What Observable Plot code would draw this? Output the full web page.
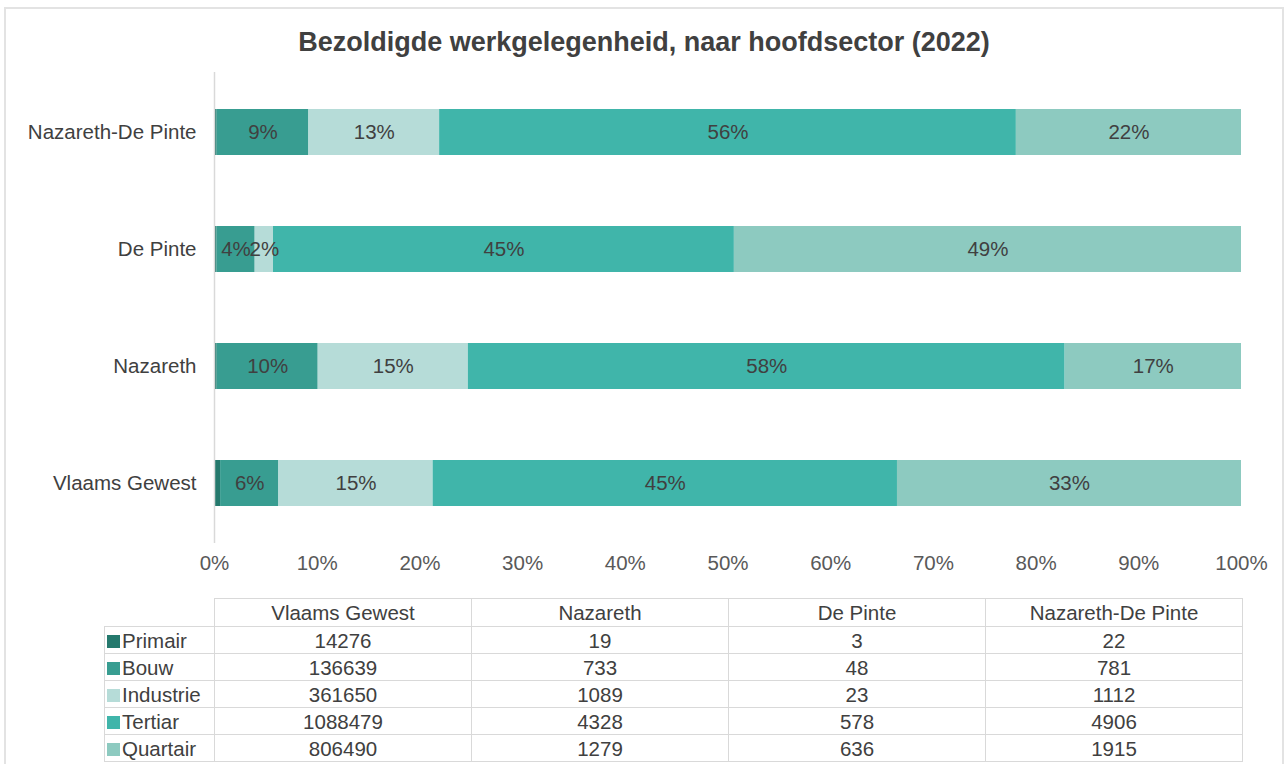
<!DOCTYPE html>
<html>
<head>
<meta charset="utf-8">
<script src="https://cdn.jsdelivr.net/npm/d3@7"></script>
<script src="https://cdn.jsdelivr.net/npm/@observablehq/plot@0.6"></script>
<style>
  html, body { margin: 0; padding: 0; background: #fff; }
  body { width: 1288px; height: 764px; position: relative; overflow: hidden; font-family: "Liberation Sans", Arial, sans-serif; }
  #frame { position: absolute; left: 4px; top: 7px; width: 1280px; height: 780px; border: 2px solid #e3e3e3; box-sizing: border-box; }
  #title { position: absolute; left: 0; top: 27px; width: 1288px; text-align: center; font-size: 27px; font-weight: bold; color: #404040; }
  #chart { position: absolute; left: 0; top: 62px; }
  #tbl { position: absolute; left: 104px; top: 598px; border-collapse: collapse; font-size: 20.5px; color: #404040; table-layout: fixed; }
  #tbl td, #tbl th { border: 1.5px solid #d9d9d9; padding: 0; text-align: center; font-weight: normal; height: 25px; line-height: 25px; white-space: nowrap; overflow: hidden; padding-top: 1px; }
  #tbl th { height: 26px; line-height: 26px; padding-top: 1px; }
  #tbl th.blank { border: none; border-right: 1.5px solid #d9d9d9; border-bottom: 1.5px solid #d9d9d9; }
  #tbl td.lg { text-align: left; padding-left: 2px; }
  .sw { display: inline-block; width: 13px; height: 13px; margin-right: 2px; vertical-align: 0px; }
</style>
</head>
<body>
<div id="frame"></div>
<div id="title">Bezoldigde werkgelegenheid, naar hoofdsector (2022)</div>
<div id="chart"></div>
<table id="tbl"></table>
<script>
const regions = ["Vlaams Gewest", "Nazareth", "De Pinte", "Nazareth-De Pinte"];
const sectors = ["Primair", "Bouw", "Industrie", "Tertiar", "Quartair"];
const colors = ["#25796d", "#389d91", "#b6dcd8", "#40b5aa", "#8dcac0"];
const primair   = [14276, 19, 3, 22];
const bouw      = [136639, 733, 48, 781];
const industrie = [361650, 1089, 23, 1112];
const tertiar   = [1088479, 4328, 578, 4906];
const quartair  = [806490, 1279, 636, 1915];
const xTicks = [0, 0.1, 0.2, 0.3, 0.4, 0.5, 0.6, 0.7, 0.8, 0.9, 1];

const seriesValues = [primair, bouw, industrie, tertiar, quartair];
const totals = regions.map((r, i) => d3.sum(seriesValues, s => s[i]));
const rows = [];
sectors.forEach((s, si) => {
  regions.forEach((r, ri) => {
    const v = seriesValues[si][ri];
    rows.push({region: r, sector: s, value: v, pct: v / totals[ri]});
  });
});

const FS = 20.5;
const chart = Plot.plot({
  width: 1288,
  height: 533,
  marginLeft: 214,
  marginRight: 47,
  marginTop: 10,
  marginBottom: 52,
  style: {fontFamily: "'Liberation Sans', Arial, sans-serif", fontSize: FS + "px", color: "#595959", background: "transparent"},
  x: {domain: [0, 1], ticks: xTicks, tickFormat: d3.format(".0%"), label: null},
  y: {domain: regions.slice().reverse(), paddingInner: 0.61, paddingOuter: 0.305, label: null},
  color: {domain: sectors, range: colors},
  marks: [
    Plot.barX(rows, Plot.stackX({x: "value", y: "region", fill: "sector", z: "sector", order: sectors, offset: "normalize"})),
    Plot.text(rows, Plot.stackX({
      x: "value", y: "region", z: "sector", order: sectors, offset: "normalize",
      text: d => d.sector === "Primair" ? "" : Math.round(d.pct * 100) + "%",
      fill: "#404040", fontSize: FS
    })),
    Plot.ruleX([0], {stroke: "#d9d9d9", strokeWidth: 1.5}),
    Plot.axisX({ticks: xTicks, tickFormat: d3.format(".0%"), tickSize: 0, tickPadding: 12, fontSize: FS, color: "#595959", label: null}),
    Plot.axisY({tickSize: 0, tickPadding: 18, fontSize: FS, color: "#404040", label: null})
  ]
});
document.getElementById("chart").appendChild(chart);

// data table with legend keys
const tbl = document.getElementById("tbl");
let html = '<colgroup><col style="width:110px">' + regions.map(() => '<col style="width:257px">').join("") + '</colgroup>';
html += '<tr><th class="blank"></th>' + regions.map(r => `<th>${r}</th>`).join("") + '</tr>';
sectors.forEach((s, si) => {
  html += `<tr><td class="lg"><span class="sw" style="background:${colors[si]}"></span>${s}</td>` +
    seriesValues[si].map(v => `<td>${v}</td>`).join("") + '</tr>';
});
tbl.innerHTML = html;
</script>
</body>
</html>
